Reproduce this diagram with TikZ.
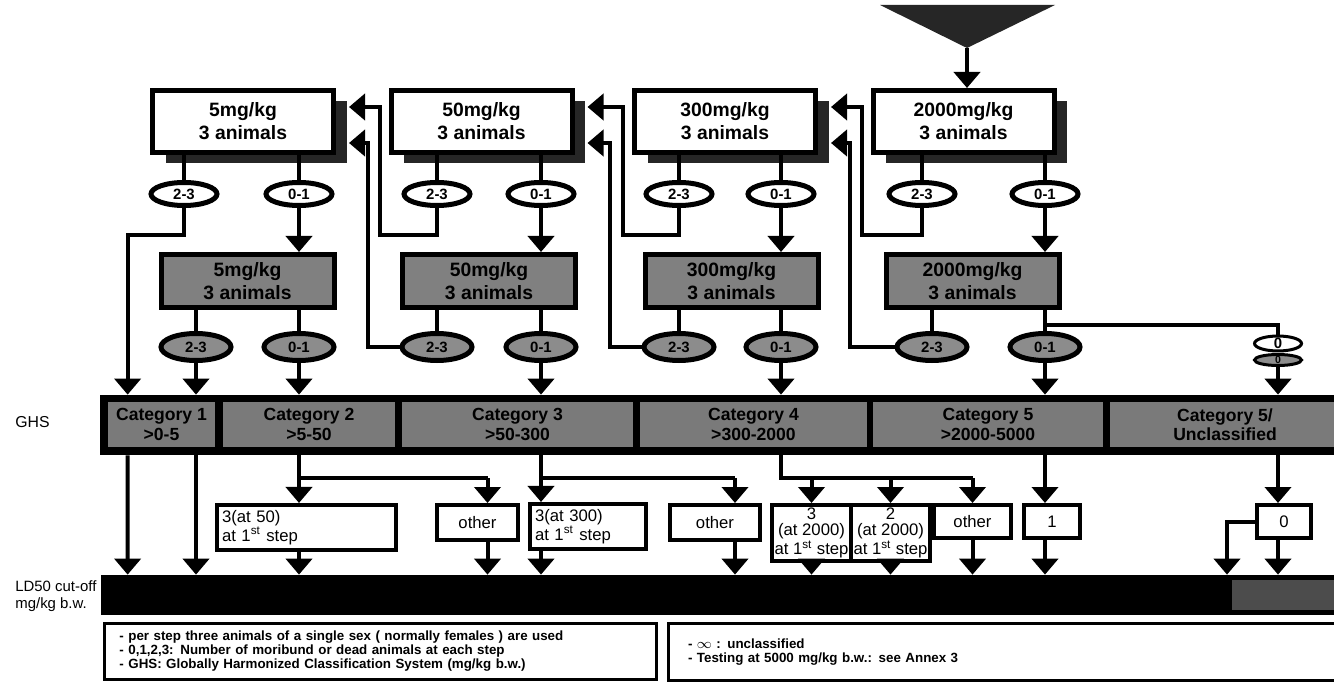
\documentclass[tikz,border=0pt]{standalone}
\usepackage{fontspec}
\setmainfont{Liberation Sans}
\usetikzlibrary{positioning, arrows.meta, shapes.geometric, shadows, calc}

\begin{document}
\begin{tikzpicture}[x=0.2mm, y=-0.2mm,
    dose/.style={draw, line width=1mm, fill=white, minimum width=36.2mm,
      minimum height=12.4mm, align=center, inner sep=0pt,
      font=\bfseries\fontsize{11}{13}\selectfont,
      drop shadow={shadow xshift=2.6mm, shadow yshift=-2.2mm, fill=black!85, opacity=1}},
    redose/.style={draw, line width=1mm, fill=black!50, minimum width=34.6mm,
      minimum height=10.6mm, align=center, inner sep=0pt,
      font=\bfseries\fontsize{11}{13}\selectfont},
    res/.style={ellipse, draw, line width=1mm, fill=white, minimum width=13.2mm,
      minimum height=4.6mm, inner sep=0pt, font=\bfseries\fontsize{8.5}{9}\selectfont},
    gres/.style={res, fill=black!45, minimum width=14mm, minimum height=5.4mm},
    cat/.style={fill=black!52, minimum height=9mm, inner sep=0pt, align=center,
      font=\bfseries\fontsize{10}{11}\selectfont},
    bar/.style={fill=black, inner sep=0pt},
    outc/.style={draw, line width=0.8mm, fill=white, inner sep=0.5mm, align=center,
      font=\fontsize{9.5}{9}\selectfont},
    note/.style={draw, line width=0.6mm, inner sep=0pt, align=left,
      font=\bfseries\fontsize{7.6}{8}\selectfont},
    conn/.style={line width=0.8mm},
    arr/.style={conn, -{Triangle[width=5.2mm, length=3.2mm]}}]
    \useasboundingbox (0,0) rectangle (1334,684);

    % start
    \fill[black!85] (880,5) -- (1055,5) -- (967,48) -- cycle;
    \coordinate (start) at (967,48);

    % first step
    \node[dose] (w5) at (243,121.5) {5mg/kg\\3 animals};
    \node[dose] (w50) at (481.5,121.5) {50mg/kg\\3 animals};
    \node[dose] (w300) at (725,121.5) {300mg/kg\\3 animals};
    \node[dose] (w2000) at (963.5,121.5) {2000mg/kg\\3 animals};
    \node[res] (wa5) at (184,194) {2-3};    \node[res] (wb5) at (299,194) {0-1};
    \node[res] (wa50) at (437,194) {2-3};   \node[res] (wb50) at (541,194) {0-1};
    \node[res] (wa300) at (679,194) {2-3};  \node[res] (wb300) at (781,194) {0-1};
    \node[res] (wa2000) at (922,194) {2-3}; \node[res] (wb2000) at (1045,194) {0-1};

    % second step
    \node[redose] (g5) at (247.5,281) {5mg/kg\\3 animals};
    \node[redose] (g50) at (489,281) {50mg/kg\\3 animals};
    \node[redose] (g300) at (731.5,281) {300mg/kg\\3 animals};
    \node[redose] (g2000) at (972.5,281) {2000mg/kg\\3 animals};
    \node[gres] (ga5) at (196,347) {2-3};    \node[gres] (gb5) at (299,347) {0-1};
    \node[gres] (ga50) at (437,347) {2-3};   \node[gres] (gb50) at (541,347) {0-1};
    \node[gres] (ga300) at (679,347) {2-3};  \node[gres] (gb300) at (781,347) {0-1};
    \node[gres] (ga2000) at (932,347) {2-3}; \node[gres] (gb2000) at (1045,347) {0-1};
    \node[res, line width=0.6mm, minimum width=9.4mm, minimum height=2.8mm] (z0) at (1278,343.5) {0};
    \node[gres, line width=0.6mm, minimum width=9.4mm, minimum height=2.2mm,
      font=\bfseries\fontsize{6}{6}\selectfont] (z0g) at (1278,360) {0};

    % GHS
    \node[anchor=west, inner sep=0pt, font=\fontsize{9}{10}\selectfont] (ghslab) at (15,422) {GHS};
    \node[bar, minimum width=248mm, minimum height=12mm] (ghsbar) at (720,425) {};
    \node[cat, minimum width=21.4mm] (ghs1) at (161.5,424.5) {Category 1\\>0-5};
    \node[cat, minimum width=34.4mm] (ghs2) at (309,424.5) {Category 2\\>5-50};
    \node[cat, minimum width=46.2mm] (ghs3) at (517.5,424.5) {Category 3\\>50-300};
    \node[cat, minimum width=45.4mm] (ghs4) at (753.5,424.5) {Category 4\\>300-2000};
    \node[cat, minimum width=46mm] (ghs5) at (988,424.5) {Category 5\\>2000-5000};
    \node[cat, minimum width=46mm] (ghs6) at (1225,424.5) {Category 5/\\Unclassified};

    % outcomes
    \node[outc, align=left, text width=33.8mm, inner sep=1mm, minimum height=8.2mm] (s50)
      at (306.5,527.5) {3(at 50)\\at 1\textsuperscript{st} step};
    \node[outc, minimum width=16.2mm, minimum height=7mm] (o50) at (477.5,522.5) {other};
    \node[outc, align=left, text width=21.2mm, inner sep=1mm, minimum height=8.6mm] (s300)
      at (588,526.5) {3(at 300)\\at 1\textsuperscript{st} step};
    \node[outc, minimum width=18mm, minimum height=7mm] (o300) at (715,522.5) {other};
    \node[outc, minimum width=15.8mm, minimum height=11.2mm] (s2000a) at (811.5,533)
      {3\\(at 2000)\\at 1\textsuperscript{st} step};
    \node[outc, minimum width=15.8mm, minimum height=11.2mm, right=-0.8mm of s2000a] (s2000b)
      {2\\(at 2000)\\at 1\textsuperscript{st} step};
    \node[outc, minimum width=15.4mm, minimum height=6.6mm] (o2000) at (972.5,521.5) {other};
    \node[outc, minimum width=11.2mm, minimum height=6.6mm] (b1) at (1052,521.5) {1};
    \node[outc, minimum width=10.8mm, minimum height=6.6mm] (b0) at (1284,521.5) {0};

    % LD50
    \node[anchor=north west, align=left, inner sep=0pt, font=\fontsize{8.5}{10}\selectfont] (ldlab)
      at (15,580) {LD50 cut-off\\mg/kg b.w.};
    \node[bar, minimum width=247.8mm, minimum height=8mm] (ldbar) at (720.5,595) {};
    \node[fill=black!70, minimum width=21.6mm, minimum height=6mm, inner sep=0pt] (ld6) at (1286,595) {};

    % notes
    \node[note, minimum width=110.4mm, minimum height=11.2mm, text width=104.4mm, inner xsep=3mm] (leg1)
      at (380.5,651.5) {- per step three animals of a single sex ( normally females ) are used\\
      - 0,1,2,3: Number of moribund or dead animals at each step\\
      - GHS: Globally Harmonized Classification System (mg/kg b.w.)};
    \node[note, minimum width=136mm, minimum height=11.4mm, text width=128mm, inner xsep=4mm] (leg2)
      at (1008,652) {- $\infty$ : unclassified\\- Testing at 5000 mg/kg b.w.: see Annex 3};

    % connectors, top part
    \draw[arr] (start) -- (start |- w2000.north);
    \draw[conn] (w5.south -| wa5) -- (wa5.north); \draw[conn] (w5.south -| wb5) -- (wb5.north);
    \draw[conn] (w50.south -| wa50) -- (wa50.north); \draw[conn] (w50.south -| wb50) -- (wb50.north);
    \draw[conn] (w300.south -| wa300) -- (wa300.north); \draw[conn] (w300.south -| wb300) -- (wb300.north);
    \draw[conn] (w2000.south -| wa2000) -- (wa2000.north); \draw[conn] (w2000.south -| wb2000) -- (wb2000.north);
    \draw[arr] (wb5.south) -- (wb5 |- g5.north); \draw[arr] (wb50.south) -- (wb50 |- g50.north);
    \draw[arr] (wb300.south) -- (wb300 |- g300.north); \draw[arr] (wb2000.south) -- (wb2000 |- g2000.north);
    \draw[conn] (g5.south -| ga5) -- (ga5.north); \draw[conn] (g5.south -| gb5) -- (gb5.north);
    \draw[conn] (g50.south -| ga50) -- (ga50.north); \draw[conn] (g50.south -| gb50) -- (gb50.north);
    \draw[conn] (g300.south -| ga300) -- (ga300.north); \draw[conn] (g300.south -| gb300) -- (gb300.north);
    \draw[conn] (g2000.south -| ga2000) -- (ga2000.north); \draw[conn] (g2000.south -| gb2000) -- (gb2000.north);

    % back to the lower dose
    \draw[arr] (wa50.south) -- ++(0,27) -- ++(-57,0) |- ($(w5.east)+(13,-14.5)$);
    \draw[arr] (ga50.west) -- ++(-31.5,0) |- ($(w5.east)+(13,21.5)$);
    \draw[arr] (wa300.south) -- ++(0,27) -- ++(-56,0) |- ($(w50.east)+(13,-14.5)$);
    \draw[arr] (ga300.west) -- ++(-31.5,0) |- ($(w50.east)+(13,21.5)$);
    \draw[arr] (wa2000.south) -- ++(0,27) -- ++(-60,0) |- ($(w300.east)+(13,-14.5)$);
    \draw[arr] (ga2000.west) -- ++(-44.5,0) |- ($(w300.east)+(13,21.5)$);

    % into GHS
    \draw[arr] (wa5.south) -- ++(0,27) -| ($(ghsbar.north west)+(28,0)$);
    \draw[arr] (ga5.south) -- (ga5 |- ghsbar.north); \draw[arr] (gb5.south) -- (gb5 |- ghsbar.north);
    \draw[arr] (gb50.south) -- (gb50 |- ghsbar.north); \draw[arr] (gb300.south) -- (gb300 |- ghsbar.north);
    \draw[arr] (gb2000.south) -- (gb2000 |- ghsbar.north);
    \draw[conn] ($(g2000.south -| gb2000)+(0,15)$) -| (z0.north);
    \draw[arr] (z0g.south) -- (z0g |- ghsbar.north);

    % GHS to LD50
    \draw[arr] ($(ghsbar.south west)+(28,0)$) -- ($(ldbar.north west)+(27,0)$);
    \draw[arr] (ga5 |- ghsbar.south) -- (ga5 |- ldbar.north);
    \coordinate (j2) at ($(gb5 |- ghsbar.south)+(0,23)$);
    \draw[conn] (gb5 |- ghsbar.south) -- (j2) -- ($(j2 -| o50.north)+(10,0)$);
    \draw[arr] (j2) -- (j2 |- s50.north);
    \draw[arr] ($(j2 -| o50.north)+(10,0)$) -- ($(o50.north)+(10,0)$);
    \draw[arr] (s50.south -| gb5) -- (gb5 |- ldbar.north);
    \draw[arr] ($(o50.south)+(10,0)$) -- ($(o50.south |- ldbar.north)+(10,0)$);
    \coordinate (j3) at ($(gb50 |- ghsbar.south)+(0,23)$);
    \draw[conn] (gb50 |- ghsbar.south) -- (j3) -- ($(j3 -| o300.north)+(20,0)$);
    \draw[arr] (j3) -- (j3 |- s300.north);
    \draw[arr] ($(j3 -| o300.north)+(20,0)$) -- ($(o300.north)+(20,0)$);
    \draw[arr] (s300.south -| gb50) -- (gb50 |- ldbar.north);
    \draw[arr] ($(o300.south)+(20,0)$) -- ($(o300.south |- ldbar.north)+(20,0)$);
    \coordinate (j4) at ($(gb300 |- ghsbar.south)+(0,23)$);
    \draw[conn] (gb300 |- ghsbar.south) -- (j4) -- (j4 -| o2000.north);
    \draw[arr] (j4 -| s2000a.north) -- (s2000a.north); \draw[arr] (j4 -| s2000b.north) -- (s2000b.north);
    \draw[arr] (j4 -| o2000.north) -- (o2000.north);
    \draw[arr] (s2000a.south) -- (s2000a |- ldbar.north); \draw[arr] (s2000b.south) -- (s2000b |- ldbar.north);
    \draw[arr] (o2000.south) -- (o2000 |- ldbar.north);
    \draw[arr] (gb2000 |- ghsbar.south) -- (gb2000 |- b1.north);
    \draw[arr] (b1.south -| gb2000) -- (gb2000 |- ldbar.north);
    \draw[arr] (z0g |- ghsbar.south) -- (z0g |- b0.north);
    \draw[arr] (b0.south -| z0g) -- (z0g |- ldbar.north);
    \draw[arr] (b0.west) -| ($(b0.west |- ldbar.north)+(-28,0)$);
  \end{tikzpicture}
\end{document}
